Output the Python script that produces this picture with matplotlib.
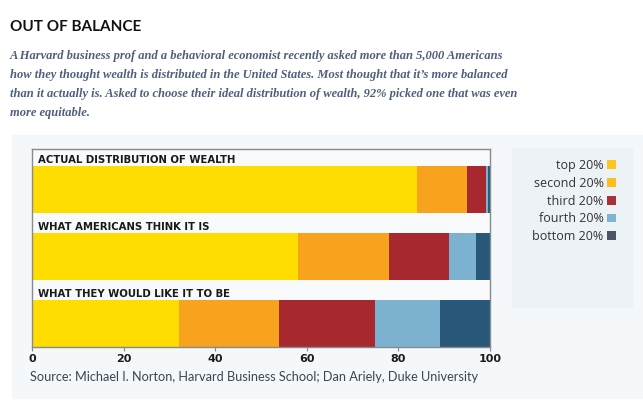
import numpy as np
import matplotlib.pyplot as plt
from matplotlib.patches import Rectangle, Patch

# wealth share held by each quintile (%)
rows = ["ACTUAL DISTRIBUTION OF WEALTH", "WHAT AMERICANS THINK IT IS", "WHAT THEY WOULD LIKE IT TO BE"]
top_20 = [84, 58, 32]
second_20 = [11, 20, 22]
third_20 = [4.2, 13, 21]
fourth_20 = [0.4, 6, 14]
bottom_20 = [0.4, 3, 11]
quintiles = ["top 20%", "second 20%", "third 20%", "fourth 20%", "bottom 20%"]
xticks = [0, 20, 40, 60, 80, 100]

bar_colors = ["#ffdd00", "#f8a31e", "#a8282f", "#7cb2d0", "#28577a"]
legend_colors = ["#fdc623", "#fbbe1c", "#a8323a", "#80b3d1", "#4b5563"]

W, H = 643, 407
fig = plt.figure(figsize=(W / 100, H / 100), dpi=100)
fig.patch.set_facecolor("white")

# light panel behind chart + legend
fig.patches.append(Rectangle((12 / W, (H - 398) / H), (W - 12) / W, (398 - 135) / H,
                             transform=fig.transFigure, color="#f4f8fb", zorder=-10))
fig.patches.append(Rectangle((512 / W, (H - 307) / H), 120 / W, (307 - 148) / H,
                             transform=fig.transFigure, color="#edf2f6", zorder=-9))

fig.text(10 / W, 1 - 27 / H, "OUT OF BALANCE", fontsize=11, fontweight="bold",
         family="Lato", color="#111111", va="center")

subtitle = [
    "A Harvard business prof and a behavioral economist recently asked more than 5,000 Americans",
    "how they thought wealth is distributed in the United States. Most thought that it\u2019s more balanced",
    "than it actually is. Asked to choose their ideal distribution of wealth, 92% picked one that was even",
    "more equitable.",
]
for i, line in enumerate(subtitle):
    fig.text(10 / W, 1 - (56 + 19 * i) / H, line, fontsize=9.0, family="Liberation Serif",
             style="italic", fontweight="bold", color="#4e5f7d", va="center")

ax = fig.add_axes([32 / W, (H - 347) / H, (490 - 32) / W, (347 - 149) / H])
ax.set_zorder(2)
ax.set_facecolor("#f8fafc")

y = np.array([2, 1, 0])
left = np.zeros(3)
for vals, c in zip([top_20, second_20, third_20, fourth_20, bottom_20], bar_colors):
    ax.barh(y, vals, left=left, height=0.70, color=c, edgecolor="none", zorder=2)
    left += np.array(vals)

for yi, name in zip(y, rows):
    ax.text(1.3, yi + 0.35 + 0.09, name, fontsize=7.3, fontweight="bold",
            color="#1a1a1a", va="center", ha="left")

ax.set_xlim(0, 100)
ax.set_ylim(-0.35, 2.605)
ax.set_yticks([])
ax.set_xticks(xticks)
ax.set_xticklabels([str(t) for t in xticks], fontsize=8, fontweight="bold", color="#1a1a1a")
ax.tick_params(axis="x", length=3, width=0.8, color="#888888", pad=2)
for s in ax.spines.values():
    s.set_color("#8a8a8a")
    s.set_linewidth(1.0)

fig.text(30 / W, 1 - 377 / H,
         "Source: Michael I. Norton, Harvard Business School; Dan Ariely, Duke University",
         fontsize=9.2, family="Lato", color="#3a4654", va="center")

handles = [Patch(facecolor=c, edgecolor="none") for c in legend_colors]
leg = fig.legend(handles, quintiles, loc="upper right", bbox_to_anchor=(616 / W, 1 - 159 / H),
                 markerfirst=False, frameon=False, handlelength=0.7, handleheight=0.7,
                 handletextpad=0.3, labelspacing=0.38, borderaxespad=0, borderpad=0,
                 prop={"family": "Open Sans", "size": 9})
for t in leg.get_texts():
    t.set_color("#333333")

fig.savefig("out.png", dpi=100)
